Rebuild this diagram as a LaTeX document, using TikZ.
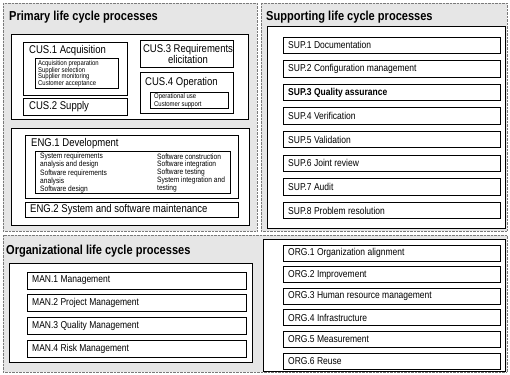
\documentclass[tikz,border=0pt]{standalone}
\usepackage{fontspec}
\setmainfont{Liberation Sans}[FakeStretch=0.85]
\usepackage{xcolor}
\definecolor{panel-grey}{HTML}{E6E6E6}
\definecolor{dot-grey}{HTML}{7A7A7A}

\begin{document}
\begin{tikzpicture}[x=1pt, y=-1pt,
      every node/.style={inner sep=0pt, anchor=west},
      panel/.style={draw=dot-grey, densely dotted, fill=panel-grey},
      groupbox/.style={draw=black, line width=0.9pt, fill=white},
      procbox/.style={draw=black, line width=0.85pt, fill=white},
      paneltitle/.style={font=\fontsize{13}{14}\selectfont\bfseries},
      biglabel/.style={font=\fontsize{11.2}{12}\selectfont},
      proclabel/.style={font=\fontsize{10}{11}\selectfont},
      sublist/.style={align=left, font=\fontsize{7}{6.6}\selectfont},
      englist/.style={align=left, font=\fontsize{7.8}{6.9}\selectfont}]
    \useasboundingbox (0,0) rectangle (510,374);
    \fill[white] (0,0) rectangle (510,374);
    % ---- Panels
    \draw[panel] (3,3) rectangle (257,231);
    \draw[panel] (261,3) rectangle (507,231);
    \draw[panel] (3,235) rectangle (507,372);
    \node[paneltitle] (primary) at (9,17) {Primary life cycle processes};
    \node[paneltitle] (supporting) at (266,17) {Supporting life cycle processes};
    \node[paneltitle] (organizational) at (6,251) {Organizational life cycle processes};
    % ---- Customer-supplier group
    \draw[groupbox] (11,34) rectangle (248,119);
    \draw[procbox] (23,42) rectangle (127,95);
    \node[biglabel] (cus1) at (29,51) {CUS.1 Acquisition};
    \draw[procbox] (35,58) rectangle (118,88);
    \node[sublist] (cus1list) at (38,73.5) {Acquisition preparation\\Supplier selection\\Supplier monitoring\\Customer acceptance};
    \draw[procbox] (23,98) rectangle (127,115);
    \node[biglabel] (cus2) at (29,107) {CUS.2 Supply};
    \draw[procbox] (140,40) rectangle (233,67);
    \node[biglabel, anchor=center, align=center, font=\fontsize{11.2}{9.5}\selectfont] (cus3) at (188,54) {CUS.3 Requirements\\elicitation};
    \draw[procbox] (140,72) rectangle (233,113);
    \node[biglabel] (cus4) at (145,83) {CUS.4 Operation};
    \draw[procbox] (150,92) rectangle (228,108);
    \node[sublist, font=\fontsize{7}{8.3}\selectfont] (cus4list) at (154,100.5) {Operational use\\Customer support};
    % ---- Engineering group
    \draw[groupbox] (11,128) rectangle (249,225);
    \draw[procbox] (25,135) rectangle (238,198);
    \node[biglabel] (eng1) at (31,143.5) {ENG.1 Development};
    \draw[procbox] (35,151) rectangle (230,193.5);
    \node[englist] (eng1left) at (40,173) {System requirements\\analysis and design\\Software requirements\\analysis\\Software design};
    \node[englist] (eng1right) at (157,173) {Software construction\\Software integration\\Software testing\\System integration and\\testing};
    \draw[procbox] (25,202) rectangle (238,217);
    \node[biglabel] (eng2) at (30,209.5) {ENG.2 System and software maintenance};
    % ---- Supporting group
    \draw[groupbox] (267,26) rectangle (505,228);
    \draw[procbox] (283,37.0) rectangle (500,53.5);
    \node[proclabel] (sup1) at (288,45.3) {SUP.1 Documentation};
    \draw[procbox] (283,60.6) rectangle (500,77.1);
    \node[proclabel] (sup2) at (288,68.9) {SUP.2 Configuration management};
    \draw[procbox] (283,84.2) rectangle (500,100.7);
    \node[proclabel, font=\fontsize{10}{11}\selectfont\bfseries] (sup3) at (288,92.5) {SUP.3 Quality assurance};
    \draw[procbox] (283,107.8) rectangle (500,124.3);
    \node[proclabel] (sup4) at (288,116.1) {SUP.4 Verification};
    \draw[procbox] (283,131.4) rectangle (500,147.9);
    \node[proclabel] (sup5) at (288,139.7) {SUP.5 Validation};
    \draw[procbox] (283,155.0) rectangle (500,171.5);
    \node[proclabel] (sup6) at (288,163.3) {SUP.6 Joint review};
    \draw[procbox] (283,178.6) rectangle (500,195.1);
    \node[proclabel] (sup7) at (288,186.9) {SUP.7 Audit};
    \draw[procbox] (283,202.2) rectangle (500,218.7);
    \node[proclabel] (sup8) at (288,210.5) {SUP.8 Problem resolution};
    % ---- Management group
    \draw[groupbox] (9,263) rectangle (252,362);
    \draw[procbox] (27,272.0) rectangle (246,289.0);
    \node[proclabel] (man1) at (32,280.5) {MAN.1 Management};
    \draw[procbox] (27,294.8) rectangle (246,311.8);
    \node[proclabel] (man2) at (32,303.3) {MAN.2 Project Management};
    \draw[procbox] (27,317.6) rectangle (246,334.6);
    \node[proclabel] (man3) at (32,326.1) {MAN.3 Quality Management};
    \draw[procbox] (27,340.4) rectangle (246,357.4);
    \node[proclabel] (man4) at (32,348.9) {MAN.4 Risk Management};
    % ---- Organization group
    \draw[groupbox] (263,239) rectangle (505,371);
    \draw[procbox] (283,245.0) rectangle (500,261.0);
    \node[proclabel] (org1) at (288,253.0) {ORG.1 Organization alignment};
    \draw[procbox] (283,266.6) rectangle (500,282.6);
    \node[proclabel] (org2) at (288,274.6) {ORG.2 Improvement};
    \draw[procbox] (283,288.2) rectangle (500,304.2);
    \node[proclabel] (org3) at (288,296.2) {ORG.3 Human resource management};
    \draw[procbox] (283,309.8) rectangle (500,325.8);
    \node[proclabel] (org4) at (288,317.8) {ORG.4 Infrastructure};
    \draw[procbox] (283,331.4) rectangle (500,347.4);
    \node[proclabel] (org5) at (288,339.4) {ORG.5 Measurement};
    \draw[procbox] (283,353.0) rectangle (500,369.0);
    \node[proclabel] (org6) at (288,361.0) {ORG.6 Reuse};
  \end{tikzpicture}
\end{document}
